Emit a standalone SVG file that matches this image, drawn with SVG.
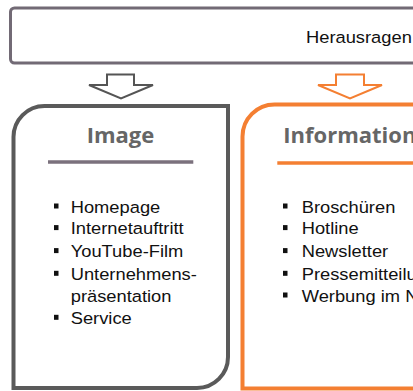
<svg xmlns="http://www.w3.org/2000/svg" width="413" height="391" viewBox="0 0 413 391">
  <style>
    .item { font-family: "Liberation Sans", Arial, sans-serif; font-size: 16.5px; fill: #111111; }
    .title { font-family: "Open Sans", "Liberation Sans", sans-serif; font-size: 22px; font-weight: 700; fill: #666666; }
    .bul { fill: #111111; }
    .arrow { fill: #ffffff; stroke-width: 2; stroke-linejoin: miter; }
  </style>
  <rect width="413" height="391" fill="#ffffff"/>

  <g id="header">
    <rect x="10.5" y="8" width="440" height="55" rx="4" fill="#ffffff" stroke="#726a75" stroke-width="3"/>
    <text class="item" transform="matrix(1.11 0 0 1 306 42.7)">Herausragen</text>
  </g>

  <g id="connectors">
    <path class="arrow" stroke="#555555" d="M107,74.5 H134 V85 H153 L121,98.5 L89,85 H107 Z"/>
    <path class="arrow" stroke="#f47f32" d="M336,74.5 H364 V85 H382 L350,98.5 L318,85 H336 Z"/>
  </g>

  <g id="node-image">
    <path d="M13.5,388 V137 A31,31 0 0 1 44.5,106 H228 V357 A31,31 0 0 1 197,388 Z" fill="#ffffff" stroke="#5a5a5a" stroke-width="4"/>
    <text class="title" x="120.5" y="142.7" text-anchor="middle">Image</text>
    <line x1="48" y1="162" x2="193.3" y2="162" stroke="#7b717d" stroke-width="3.5"/>
    <rect class="bul" x="54" y="203.5" width="4.5" height="5"/>
    <text class="item" transform="matrix(1.11 0 0 1 70.7 212.7)">Homepage</text>
    <rect class="bul" x="54" y="225.1" width="4.5" height="5"/>
    <text class="item" transform="matrix(1.11 0 0 1 70.7 234.3)">Internetauftritt</text>
    <rect class="bul" x="54" y="248.1" width="4.5" height="5"/>
    <text class="item" transform="matrix(1.11 0 0 1 70.7 257.3)">YouTube-Film</text>
    <rect class="bul" x="54" y="270.8" width="4.5" height="5"/>
    <text class="item" transform="matrix(1.11 0 0 1 70.7 280)">Unternehmens-</text>
    <text class="item" transform="matrix(1.11 0 0 1 70.7 301.7)">präsentation</text>
    <rect class="bul" x="54" y="314.8" width="4.5" height="5"/>
    <text class="item" transform="matrix(1.11 0 0 1 70.7 324)">Service</text>
  </g>

  <g id="node-information">
    <path d="M242.5,388.5 V136.5 A32,32 0 0 1 274.5,104.5 H470 V388.5 Z" fill="#ffffff" stroke="#f47f32" stroke-width="4"/>
    <text class="title" x="283.3" y="143.3">Information</text>
    <line x1="277.3" y1="163" x2="420" y2="163" stroke="#f47f32" stroke-width="3.5"/>
    <rect class="bul" x="283" y="203.5" width="4.5" height="5"/>
    <text class="item" transform="matrix(1.11 0 0 1 301.7 212.7)">Broschüren</text>
    <rect class="bul" x="283" y="225.1" width="4.5" height="5"/>
    <text class="item" transform="matrix(1.11 0 0 1 301.7 234.3)">Hotline</text>
    <rect class="bul" x="283" y="248.1" width="4.5" height="5"/>
    <text class="item" transform="matrix(1.11 0 0 1 301.7 257.3)">Newsletter</text>
    <rect class="bul" x="283" y="270.8" width="4.5" height="5"/>
    <text class="item" transform="matrix(1.11 0 0 1 301.7 280)">Pressemitteilu</text>
    <rect class="bul" x="283" y="292.5" width="4.5" height="5"/>
    <text class="item" transform="matrix(1.11 0 0 1 301.7 301.7)">Werbung im N</text>
  </g>
</svg>
